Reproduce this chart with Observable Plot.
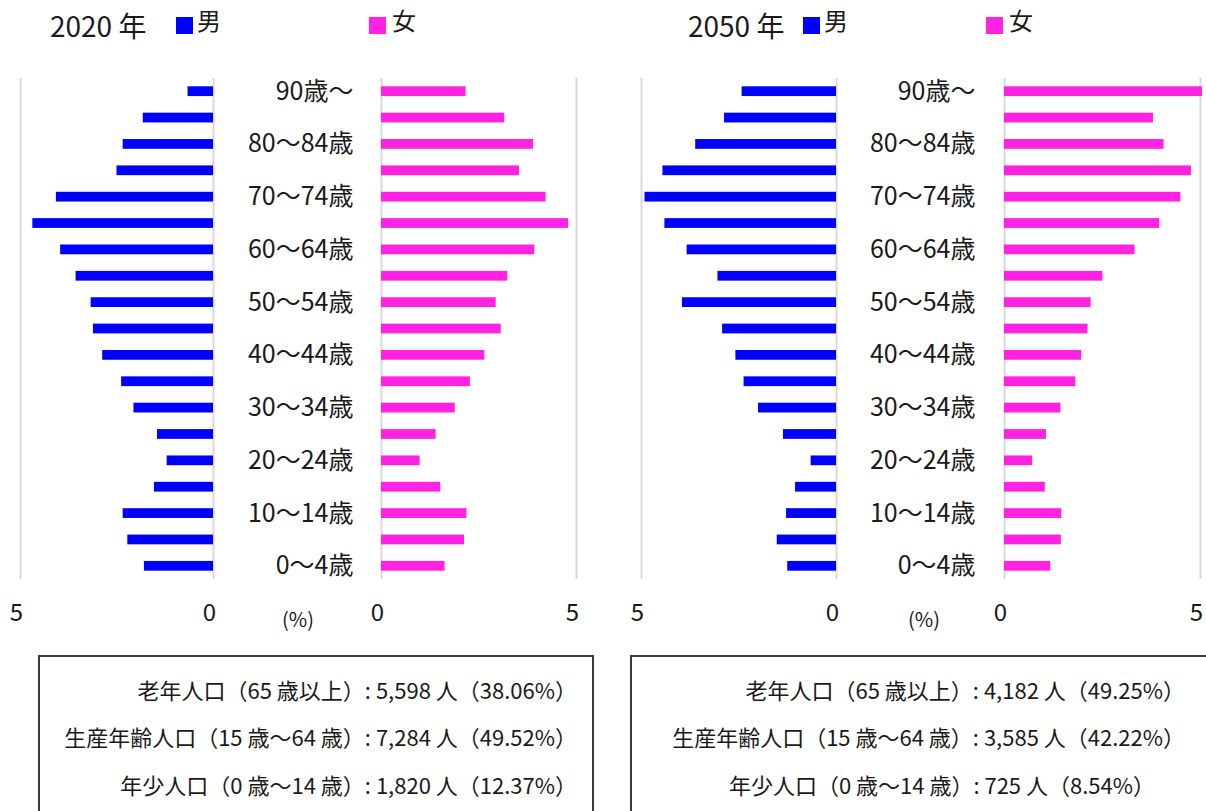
<!DOCTYPE html>
<html><head><meta charset="utf-8">
<script src="https://cdn.jsdelivr.net/npm/d3@7"></script>
<script src="https://cdn.jsdelivr.net/npm/@observablehq/plot@0.6"></script>
<style>
html,body{margin:0;padding:0;background:#fff;}
#root{position:relative;width:1206px;height:811px;overflow:hidden;font-family:'Noto Sans CJK JP','Noto Sans',sans-serif;color:#1a1a1a;}
.abs{position:absolute;white-space:nowrap;}
.sq{position:absolute;width:17px;height:17px;}
.box{position:absolute;border:2px solid #3a3a3a;box-sizing:border-box;}
</style></head>
<body><div id="root"></div>
<script>
// ---------- data ----------
const ages = ["0～4歳","5～9歳","10～14歳","15～19歳","20～24歳","25～29歳","30～34歳","35～39歳","40～44歳","45～49歳","50～54歳","55～59歳","60～64歳","65～69歳","70～74歳","75～79歳","80～84歳","85～89歳","90歳～"];
const labeledAges = ["0～4歳","10～14歳","20～24歳","30～34歳","40～44歳","50～54歳","60～64歳","70～74歳","80～84歳","90歳～"];
const male2020   = [1.79,2.22,2.34,1.53,1.20,1.45,2.06,2.38,2.87,3.11,3.17,3.56,3.96,4.68,4.07,2.50,2.34,1.82,0.66];
const female2020 = [1.63,2.13,2.19,1.52,0.99,1.40,1.89,2.28,2.65,3.07,2.94,3.24,3.93,4.80,4.22,3.54,3.90,3.16,2.17];
const male2050   = [1.25,1.52,1.28,1.05,0.65,1.36,2.00,2.37,2.58,2.92,3.95,3.04,3.83,4.40,4.91,4.45,3.61,2.87,2.42];
const female2050 = [1.18,1.45,1.46,1.04,0.72,1.07,1.44,1.82,1.97,2.13,2.21,2.51,3.33,3.96,4.50,4.77,4.07,3.80,5.05];
const xTicks = [0, 5];
const years = ["2020 年", "2050 年"];
const sexLabels = ["男", "女"];
const unitLabel = "(%)";
const summary2020 = ["老年人口（65 歳以上）: 5,598 人（38.06%）","生産年齢人口（15 歳～64 歳）: 7,284 人（49.52%）","年少人口（0 歳～14 歳）: 1,820 人（12.37%）"];
const summary2050 = ["老年人口（65 歳以上）: 4,182 人（49.25%）","生産年齢人口（15 歳～64 歳）: 3,585 人（42.22%）","年少人口（0 歳～14 歳）: 725 人（8.54%）"];

// ---------- styles ----------
const MALE = "#0000FF", FEMALE = "#FF22E2", GRID = "#d9d9d9";
const FONT = "'Noto Sans CJK JP','Noto Sans',sans-serif";
const root = document.getElementById("root");
const yDomain = ages.slice().reverse();

function place(el, left, top){ el.style.position="absolute"; el.style.left=left+"px"; el.style.top=top+"px"; root.appendChild(el); }
function addText(txt, left, top, size, anchorRight){
  const d=document.createElement("div"); d.className="abs"; d.textContent=txt; d.style.fontSize=size+"px"; d.style.lineHeight="1";
  if(anchorRight){ d.style.right=(1206-left)+"px"; d.style.top=top+"px"; root.appendChild(d);} else place(d,left,top);
  return d;
}

const SVG_TOP = 61, H = 580, MT = 17, MB = 62;
function sideChart(values, color, opts){
  const data = ages.map((a,i)=>({age:a, v:values[i]}));
  const marks = [
    Plot.ruleX(xTicks, {stroke: GRID, strokeWidth: 2}),
    Plot.barX(data, {x:"v", y:"age", fill: color, insetTop: 8.3, insetBottom: 8.3}),
    Plot.axisX(xTicks, {tickSize:0, tickPadding:24, fontSize:24, dx:-4, tickFormat: d=>String(d)})
  ];
  if (opts.labels) marks.push(Plot.text(labeledAges, {y: d=>d, frameAnchor:"left", textAnchor:"end", dx:-opts.labelPad, fontSize:25, fill:"#1a1a1a"}));
  return Plot.plot({
    width: opts.width, height: H, marginTop: MT, marginBottom: MB,
    marginLeft: opts.ml, marginRight: opts.mr,
    x: {domain:[0,5], reverse: !!opts.reverse, label:null},
    y: {domain: yDomain, padding: 0, round: false, axis: null},
    style: {fontFamily: FONT, color:"#1a1a1a", background:"transparent", overflow:"visible"},
    marks
  });
}

function panel(p){
  const mLeft = p.m5 - 20, mWidth = (p.m0 + 17) - mLeft;
  const mc = sideChart(p.male, MALE, {width:mWidth, ml:20, mr:17, reverse:true});
  place(mc, mLeft, SVG_TOP);
  const fLeft = p.m0 + 17, fWidth = (p.f5 + 24) - fLeft;
  const fc = sideChart(p.female, FEMALE, {width:fWidth, ml:p.f0 - fLeft, mr:24, labels:true, labelPad:p.labelPad});
  place(fc, fLeft, SVG_TOP);
  addText(p.year, p.titleX, 11, 28);
  const s1=document.createElement("div"); s1.className="sq"; s1.style.background=MALE; place(s1, p.sqM, 17);
  addText(sexLabels[0], p.sqM+21, 8, 24);
  const s2=document.createElement("div"); s2.className="sq"; s2.style.background=FEMALE; place(s2, p.sqF, 17);
  addText(sexLabels[1], p.sqF+23, 8, 24);
  addText(unitLabel, p.pctX, 609, 20);
  const b=document.createElement("div"); b.className="box"; b.style.width=p.boxW+"px"; b.style.height="220px"; place(b, p.boxX, 655);
  p.summary.forEach((t,i)=> addText(t, p.textR[i], 678 + i*47.3, 22, true));
}

panel({year:years[0], male:male2020, female:female2020, m5:20, m0:213, f0:381, f5:576, labelPad:28,
       titleX:50, sqM:176, sqF:369, pctX:282, boxX:38, boxW:556, summary:summary2020, textR:[577,577,577]});
panel({year:years[1], male:male2050, female:female2050, m5:641, m0:836, f0:1004, f5:1200, labelPad:29,
       titleX:688, sqM:803, sqF:986, pctX:908, boxX:630, boxW:640, summary:summary2050, textR:[1185,1185,1155]});
</script></body></html>
